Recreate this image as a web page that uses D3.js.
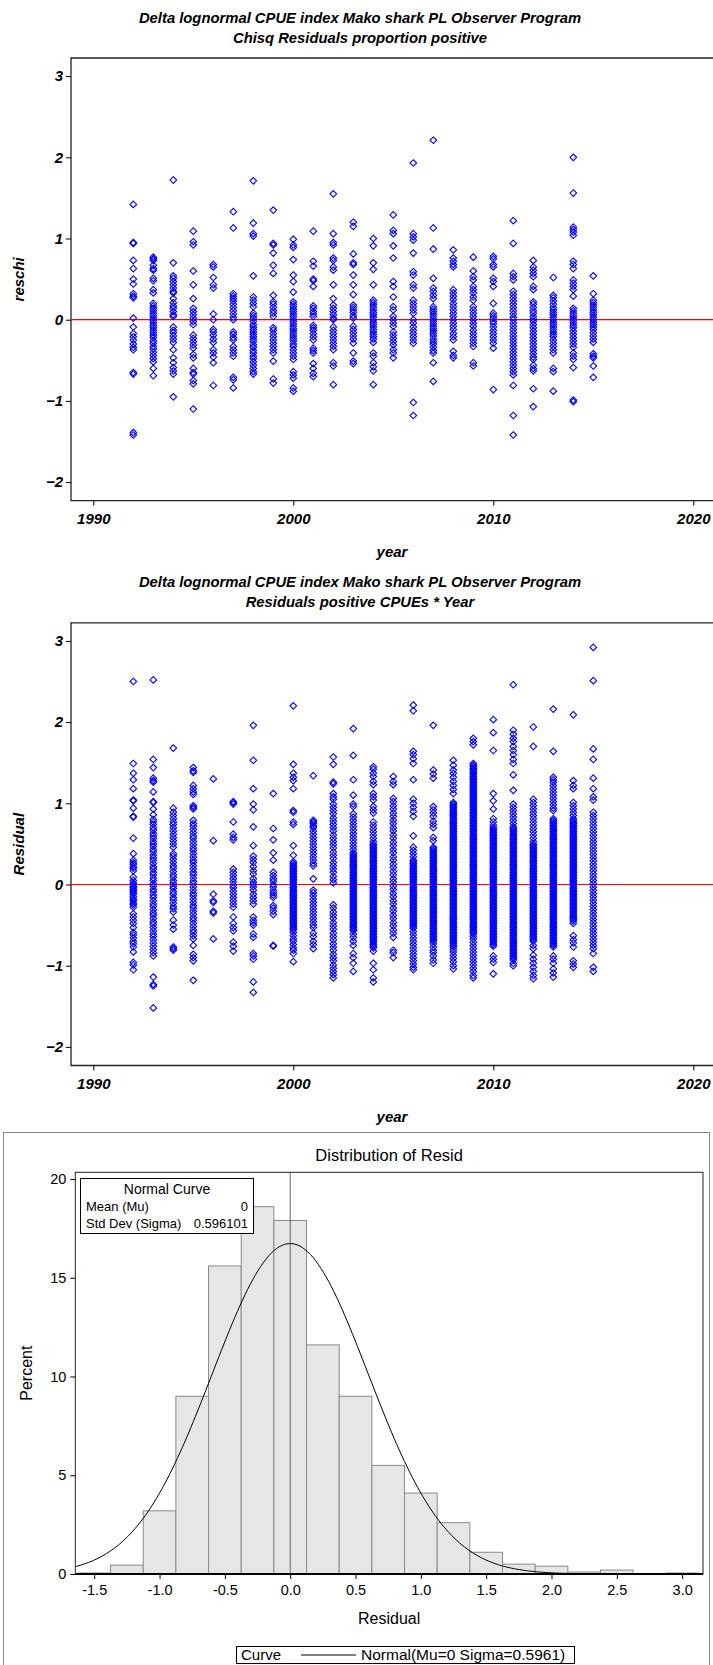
<!DOCTYPE html>
<html lang="en">
  <head>
    <meta charset="UTF-8" />
    <script src="https://cdnjs.cloudflare.com/ajax/libs/d3/7.8.5/d3.min.js"></script>
    <title>Mako shark residuals</title>
    <style>
      body {
        margin: 0;
        background: #fff;
      }
      svg {
        display: block;
      }
      .sas text {
        font-family: "Liberation Sans", Arial, sans-serif;
        font-weight: bold;
        font-style: italic;
        font-size: 15px;
        fill: #000;
      }
      .sas .title {
        font-size: 14.8px;
      }
      .hist text {
        font-family: "Liberation Sans", Arial, sans-serif;
        font-size: 14.5px;
        fill: #000;
      }
      .pt {
        fill: none;
        stroke: #0000ff;
        stroke-width: 1.1;
      }
    </style>
  </head>
  <body>
    <script>
      // ---- data ----
      const years = [1992, 1993, 1994, 1995, 1996, 1997, 1998, 1999, 2000, 2001, 2002, 2003,
                     2004, 2005, 2006, 2007, 2008, 2009, 2010, 2011, 2012, 2013, 2014, 2015];

      // chi-square residuals of proportion positive, one string per year
      const reschi = [
        "1.42 0.95 0.94 0.73 0.63 0.50 0.44 0.32 0.29 0.27 0.02 -0.09 -0.17 -0.21 -0.25 -0.30 -0.34 -0.37 -0.65 -0.67 -1.39 -1.42",
        "0.77 0.75 0.73 0.67 0.63 0.61 0.51 0.48 0.37 0.33 0.20 0.17 0.14 0.11 0.08 0.05 0.02 -0.01 -0.04 -0.07 -0.10 -0.13 -0.16 -0.19 -0.22 -0.26 -0.29 -0.33 -0.36 -0.40 -0.44 -0.48 -0.52 -0.60 -0.69",
        "1.72 0.70 0.54 0.51 0.47 0.43 0.39 0.35 0.33 0.26 0.21 0.17 0.14 0.10 0.06 0.04 -0.09 -0.13 -0.16 -0.20 -0.24 -0.28 -0.37 -0.47 -0.53 -0.59 -0.63 -0.67 -0.95",
        "1.09 0.96 0.92 0.60 0.43 0.26 0.14 0.10 0.06 0.02 -0.02 -0.06 -0.19 -0.23 -0.27 -0.31 -0.35 -0.43 -0.47 -0.60 -0.65 -0.67 -0.75 -0.79 -1.10",
        "0.68 0.65 0.52 0.43 0.39 0.07 0.00 -0.12 -0.15 -0.19 -0.24 -0.28 -0.37 -0.41 -0.46 -0.53 -0.81",
        "1.33 1.13 0.32 0.29 0.26 0.23 0.19 0.15 0.11 0.07 0.03 0.00 -0.15 -0.18 -0.22 -0.25 -0.33 -0.37 -0.41 -0.45 -0.71 -0.74 -0.84",
        "1.71 1.19 1.06 1.03 0.54 0.28 0.24 0.20 0.16 0.08 0.05 0.02 -0.02 -0.06 -0.09 -0.12 -0.15 -0.18 -0.21 -0.24 -0.27 -0.31 -0.34 -0.38 -0.41 -0.45 -0.48 -0.52 -0.56 -0.60 -0.64 -0.67",
        "1.35 0.94 0.92 0.82 0.67 0.57 0.30 0.22 0.19 0.15 0.11 0.08 0.04 -0.10 -0.13 -0.17 -0.21 -0.25 -0.29 -0.33 -0.37 -0.41 -0.51 -0.73 -0.78",
        "0.99 0.92 0.89 0.74 0.55 0.47 0.34 0.22 0.19 0.16 0.13 0.10 0.07 0.04 0.01 -0.02 -0.05 -0.08 -0.11 -0.14 -0.17 -0.20 -0.23 -0.26 -0.30 -0.33 -0.37 -0.41 -0.45 -0.49 -0.64 -0.68 -0.72 -0.84 -0.88",
        "1.09 0.72 0.66 0.50 0.48 0.41 0.17 0.14 0.10 0.07 0.04 -0.07 -0.10 -0.13 -0.17 -0.21 -0.25 -0.35 -0.38 -0.41 -0.54 -0.60 -0.66 -0.70",
        "1.55 1.06 0.95 0.92 0.76 0.73 0.65 0.61 0.43 0.26 0.18 0.14 0.10 0.06 0.02 0.00 -0.09 -0.13 -0.17 -0.21 -0.25 -0.29 -0.33 -0.37 -0.53 -0.57 -0.80",
        "1.20 1.15 0.81 0.70 0.68 0.55 0.43 0.31 0.18 0.15 0.12 0.09 0.05 0.02 -0.08 -0.12 -0.16 -0.20 -0.24 -0.29 -0.41 -0.51 -0.54",
        "1.00 0.91 0.70 0.62 0.43 0.24 0.21 0.18 0.15 0.12 0.09 0.06 0.03 0.00 -0.03 -0.06 -0.09 -0.12 -0.15 -0.18 -0.21 -0.24 -0.28 -0.41 -0.45 -0.53 -0.58 -0.63 -0.80",
        "1.29 1.10 1.06 0.91 0.76 0.47 0.41 0.28 0.16 0.12 0.04 0.00 -0.04 -0.08 -0.15 -0.19 -0.23 -0.27 -0.31 -0.37 -0.41 -0.47",
        "1.93 1.06 1.02 0.98 0.82 0.59 0.55 0.43 0.39 0.24 0.20 0.16 0.12 0.08 0.00 -0.04 -0.09 -0.13 -0.17 -0.21 -0.25 -0.29 -1.02 -1.18",
        "2.21 1.13 0.87 0.51 0.39 0.35 0.30 0.26 0.16 0.13 0.10 0.07 0.04 0.01 -0.02 -0.05 -0.08 -0.11 -0.14 -0.17 -0.20 -0.24 -0.27 -0.30 -0.34 -0.38 -0.41 -0.53 -0.76",
        "0.86 0.76 0.72 0.68 0.65 0.37 0.33 0.29 0.25 0.20 0.16 0.12 0.08 0.04 0.00 -0.04 -0.08 -0.12 -0.17 -0.21 -0.25 -0.39 -0.44 -0.47",
        "0.77 0.60 0.53 0.49 0.41 0.37 0.33 0.28 0.24 0.16 0.12 0.08 0.04 0.00 -0.04 -0.08 -0.13 -0.17 -0.21 -0.25 -0.29 -0.33 -0.53 -0.57",
        "0.78 0.75 0.68 0.65 0.51 0.47 0.41 0.20 0.08 0.05 0.02 -0.02 -0.05 -0.09 -0.13 -0.17 -0.21 -0.25 -0.29 -0.35 -0.86",
        "1.22 0.94 0.57 0.53 0.49 0.35 0.31 0.27 0.23 0.19 0.15 0.11 0.07 0.03 0.00 -0.04 -0.08 -0.12 -0.16 -0.20 -0.24 -0.28 -0.32 -0.36 -0.40 -0.44 -0.48 -0.52 -0.56 -0.60 -0.64 -0.68 -0.81 -1.18 -1.42",
        "0.73 0.65 0.61 0.57 0.53 0.41 0.37 0.22 0.19 0.15 0.11 0.08 0.04 0.01 -0.02 -0.06 -0.10 -0.14 -0.18 -0.22 -0.26 -0.30 -0.34 -0.38 -0.42 -0.46 -0.49 -0.56 -0.60 -0.63 -0.85 -1.07",
        "0.52 0.30 0.27 0.23 0.19 0.15 0.12 0.09 0.06 0.03 0.00 -0.03 -0.06 -0.09 -0.12 -0.15 -0.18 -0.21 -0.25 -0.29 -0.33 -0.37 -0.41 -0.60 -0.64 -0.88",
        "2.00 1.56 1.14 1.11 1.08 1.04 0.72 0.68 0.63 0.49 0.45 0.41 0.37 0.29 0.14 0.11 0.08 0.05 0.02 -0.01 -0.04 -0.07 -0.10 -0.14 -0.18 -0.22 -0.26 -0.30 -0.34 -0.41 -0.45 -0.49 -0.59 -0.99 -1.01",
        "0.54 0.32 0.24 0.21 0.18 0.15 0.12 0.09 0.06 0.03 0.00 -0.03 -0.06 -0.09 -0.12 -0.16 -0.20 -0.24 -0.28 -0.42 -0.45 -0.47 -0.57 -0.71"
      ];

      // residuals of positive CPUEs, one string per year
      const resid = [
        "2.50 1.49 1.37 1.29 1.18 1.04 1.03 0.94 0.84 0.83 0.57 0.38 0.30 0.27 0.25 0.22 0.20 0.17 0.09 0.05 0.02 0.00 -0.02 -0.04 -0.06 -0.08 -0.10 -0.12 -0.15 -0.18 -0.20 -0.23 -0.25 -0.28 -0.36 -0.40 -0.44 -0.48 -0.53 -0.59 -0.62 -0.66 -0.70 -0.73 -0.77 -0.83 -0.96 -0.99 -1.05",
        "2.52 1.54 1.44 1.31 1.28 1.26 1.14 1.02 1.01 0.93 0.86 0.80 0.77 0.74 0.70 0.67 0.63 0.60 0.57 0.53 0.50 0.47 0.43 0.40 0.36 0.33 0.30 0.26 0.22 0.19 0.15 0.12 0.08 0.05 0.01 -0.02 -0.06 -0.09 -0.13 -0.16 -0.20 -0.24 -0.27 -0.31 -0.35 -0.38 -0.42 -0.46 -0.49 -0.53 -0.57 -0.61 -0.64 -0.68 -0.72 -0.76 -0.80 -0.84 -0.88 -1.14 -1.23 -1.25 -1.52",
        "1.68 0.94 0.89 0.85 0.81 0.77 0.74 0.70 0.66 0.62 0.58 0.54 0.50 0.46 0.38 0.35 0.31 0.27 0.23 0.20 0.16 0.12 0.09 0.05 0.02 -0.02 -0.05 -0.09 -0.12 -0.16 -0.19 -0.23 -0.27 -0.30 -0.34 -0.44 -0.50 -0.55 -0.77 -0.79 -0.81",
        "1.44 1.40 1.38 1.22 1.18 1.14 1.11 0.97 0.95 0.93 0.79 0.75 0.72 0.68 0.64 0.60 0.57 0.53 0.49 0.45 0.42 0.38 0.34 0.30 0.27 0.23 0.19 0.15 0.12 0.08 0.04 0.01 -0.03 -0.07 -0.11 -0.14 -0.18 -0.22 -0.26 -0.29 -0.33 -0.37 -0.41 -0.44 -0.48 -0.52 -0.56 -0.59 -0.63 -0.67 -0.75 -0.86 -0.90 -0.94 -1.18",
        "1.30 0.54 -0.12 -0.20 -0.22 -0.33 -0.35 -0.67",
        "1.02 1.01 0.99 0.77 0.62 0.58 0.55 0.19 0.15 0.11 0.07 0.03 -0.01 -0.04 -0.08 -0.12 -0.16 -0.20 -0.24 -0.28 -0.40 -0.48 -0.53 -0.57 -0.71 -0.76 -0.82",
        "1.96 1.53 1.18 0.99 0.92 0.71 0.48 0.35 0.31 0.27 0.22 0.17 0.13 0.07 0.03 0.00 -0.03 -0.07 -0.12 -0.16 -0.20 -0.24 -0.40 -0.44 -0.47 -0.50 -0.61 -0.65 -0.85 -0.88 -0.92 -1.20 -1.33",
        "1.12 0.69 0.55 0.39 0.30 0.15 0.11 0.07 0.04 0.00 -0.03 -0.07 -0.10 -0.13 -0.16 -0.26 -0.29 -0.33 -0.37 -0.75 -0.76",
        "2.20 1.48 1.37 1.32 1.28 1.18 0.91 0.89 0.77 0.74 0.48 0.36 0.28 0.26 0.24 0.22 0.20 0.18 0.16 0.14 0.12 0.10 0.08 0.06 0.04 0.02 0.00 -0.02 -0.04 -0.06 -0.08 -0.10 -0.12 -0.14 -0.16 -0.18 -0.20 -0.22 -0.24 -0.26 -0.28 -0.30 -0.32 -0.34 -0.36 -0.38 -0.40 -0.42 -0.44 -0.46 -0.48 -0.50 -0.52 -0.54 -0.56 -0.59 -0.63 -0.67 -0.70 -0.74 -0.78 -0.81 -0.85 -0.95",
        "1.34 0.79 0.77 0.75 0.72 0.70 0.66 0.62 0.58 0.54 0.50 0.46 0.42 0.38 0.34 0.30 0.26 0.23 0.07 -0.07 -0.10 -0.14 -0.18 -0.22 -0.26 -0.30 -0.34 -0.38 -0.42 -0.46 -0.50 -0.53 -0.60 -0.64 -0.70 -0.74 -0.79",
        "1.57 1.48 1.26 1.24 1.12 1.08 1.05 0.99 0.95 0.91 0.87 0.82 0.78 0.74 0.70 0.66 0.61 0.57 0.53 0.49 0.45 0.40 0.36 0.32 0.27 0.23 0.19 0.15 0.10 0.06 0.02 -0.25 -0.29 -0.34 -0.38 -0.42 -0.47 -0.51 -0.55 -0.60 -0.64 -0.68 -0.73 -0.77 -0.81 -0.86 -0.90 -0.94 -0.99 -1.03 -1.07 -1.11 -1.15",
        "1.92 1.59 1.29 1.10 0.99 0.96 0.87 0.83 0.79 0.75 0.71 0.67 0.63 0.59 0.55 0.51 0.47 0.43 0.39 0.37 0.35 0.33 0.31 0.29 0.27 0.25 0.23 0.21 0.19 0.17 0.15 0.13 0.11 0.09 0.07 0.05 0.03 0.01 -0.01 -0.03 -0.05 -0.07 -0.09 -0.11 -0.13 -0.15 -0.17 -0.19 -0.21 -0.23 -0.25 -0.27 -0.29 -0.31 -0.33 -0.35 -0.37 -0.39 -0.41 -0.43 -0.45 -0.47 -0.49 -0.51 -0.53 -0.55 -0.57 -0.61 -0.65 -0.70 -0.75 -0.85 -0.90 -0.97 -1.07",
        "1.45 1.42 1.37 1.33 1.27 1.23 1.12 1.08 1.04 0.96 0.92 0.88 0.77 0.73 0.69 0.65 0.61 0.57 0.53 0.50 0.48 0.46 0.44 0.42 0.40 0.38 0.36 0.34 0.32 0.30 0.28 0.26 0.24 0.22 0.20 0.18 0.16 0.14 0.12 0.10 0.08 0.06 0.04 0.02 0.00 -0.02 -0.04 -0.06 -0.08 -0.10 -0.12 -0.14 -0.16 -0.18 -0.20 -0.22 -0.24 -0.26 -0.28 -0.30 -0.32 -0.34 -0.36 -0.38 -0.40 -0.42 -0.44 -0.46 -0.48 -0.50 -0.52 -0.54 -0.56 -0.58 -0.60 -0.62 -0.64 -0.66 -0.68 -0.70 -0.72 -0.74 -0.76 -0.78 -0.82 -0.97 -1.05 -1.15 -1.20",
        "1.33 1.27 1.23 1.06 1.02 0.97 0.93 0.88 0.84 0.79 0.75 0.70 0.66 0.61 0.57 0.52 0.48 0.43 0.39 0.34 0.30 0.25 0.21 0.16 0.12 0.07 0.03 -0.02 -0.06 -0.11 -0.15 -0.20 -0.24 -0.29 -0.33 -0.38 -0.42 -0.47 -0.51 -0.56 -0.60 -0.65 -0.81 -0.84 -0.90",
        "2.21 2.14 1.64 1.60 1.55 1.49 1.29 1.05 1.00 0.95 0.90 0.84 0.60 0.46 0.42 0.38 0.34 0.30 0.28 0.26 0.24 0.22 0.20 0.18 0.16 0.14 0.12 0.10 0.08 0.06 0.04 0.02 0.00 -0.02 -0.04 -0.06 -0.08 -0.10 -0.12 -0.14 -0.16 -0.18 -0.20 -0.22 -0.24 -0.26 -0.28 -0.30 -0.32 -0.34 -0.36 -0.38 -0.40 -0.42 -0.44 -0.46 -0.48 -0.50 -0.52 -0.54 -0.58 -0.62 -0.66 -0.70 -0.74 -0.78 -0.82 -0.86 -0.90 -0.94 -0.98 -1.02 -1.05",
        "1.96 1.41 1.36 1.31 0.96 0.92 0.88 0.84 0.78 0.74 0.70 0.58 0.54 0.46 0.44 0.42 0.40 0.38 0.36 0.34 0.32 0.30 0.28 0.26 0.24 0.22 0.20 0.18 0.16 0.14 0.12 0.10 0.08 0.06 0.04 0.02 0.00 -0.02 -0.04 -0.06 -0.08 -0.10 -0.12 -0.14 -0.16 -0.18 -0.20 -0.22 -0.24 -0.26 -0.28 -0.30 -0.32 -0.34 -0.36 -0.38 -0.40 -0.42 -0.44 -0.46 -0.48 -0.50 -0.52 -0.54 -0.56 -0.58 -0.60 -0.62 -0.64 -0.66 -0.68 -0.70 -0.73 -0.77 -0.81 -0.84 -0.88 -0.93 -0.97",
        "1.53 1.47 1.41 1.37 1.32 1.27 1.22 1.17 1.12 1.01 0.99 0.97 0.95 0.93 0.91 0.89 0.87 0.85 0.83 0.81 0.79 0.77 0.75 0.73 0.71 0.69 0.67 0.65 0.63 0.61 0.59 0.57 0.55 0.53 0.51 0.49 0.47 0.45 0.43 0.41 0.39 0.37 0.35 0.33 0.31 0.29 0.27 0.25 0.23 0.21 0.19 0.17 0.15 0.13 0.11 0.09 0.07 0.05 0.03 0.01 -0.01 -0.03 -0.05 -0.07 -0.09 -0.11 -0.13 -0.15 -0.17 -0.19 -0.21 -0.23 -0.25 -0.27 -0.29 -0.31 -0.33 -0.35 -0.37 -0.39 -0.41 -0.43 -0.45 -0.47 -0.49 -0.51 -0.53 -0.55 -0.57 -0.59 -0.61 -0.63 -0.65 -0.67 -0.69 -0.71 -0.73 -0.75 -0.77 -0.80 -0.83 -0.87 -0.91 -0.95 -1.00 -1.04",
        "1.80 1.76 1.72 1.49 1.47 1.45 1.43 1.41 1.39 1.37 1.35 1.33 1.31 1.29 1.27 1.25 1.23 1.21 1.19 1.17 1.15 1.13 1.11 1.09 1.07 1.05 1.03 1.01 0.99 0.97 0.95 0.93 0.91 0.89 0.87 0.85 0.83 0.81 0.79 0.77 0.75 0.73 0.71 0.69 0.67 0.65 0.63 0.61 0.59 0.57 0.55 0.53 0.51 0.49 0.47 0.45 0.43 0.41 0.39 0.37 0.35 0.33 0.31 0.29 0.27 0.25 0.23 0.21 0.19 0.17 0.15 0.13 0.11 0.09 0.07 0.05 0.03 0.01 -0.01 -0.03 -0.05 -0.07 -0.09 -0.11 -0.13 -0.15 -0.17 -0.19 -0.21 -0.23 -0.25 -0.27 -0.29 -0.31 -0.33 -0.35 -0.37 -0.39 -0.41 -0.43 -0.45 -0.47 -0.49 -0.51 -0.53 -0.55 -0.57 -0.59 -0.61 -0.64 -0.67 -0.71 -0.75 -0.79 -0.83 -0.87 -0.91 -0.95 -0.99 -1.03 -1.07 -1.12 -1.15",
        "2.03 1.87 1.65 1.12 1.03 0.93 0.81 0.77 0.73 0.70 0.68 0.66 0.64 0.62 0.60 0.58 0.56 0.54 0.52 0.50 0.48 0.46 0.44 0.42 0.40 0.38 0.36 0.34 0.32 0.30 0.28 0.26 0.24 0.22 0.20 0.18 0.16 0.14 0.12 0.10 0.08 0.06 0.04 0.02 0.00 -0.02 -0.04 -0.06 -0.08 -0.10 -0.12 -0.14 -0.16 -0.18 -0.20 -0.22 -0.24 -0.26 -0.28 -0.30 -0.32 -0.34 -0.36 -0.38 -0.40 -0.42 -0.44 -0.46 -0.48 -0.50 -0.52 -0.54 -0.56 -0.58 -0.60 -0.62 -0.64 -0.66 -0.68 -0.70 -0.72 -0.74 -0.76 -0.88 -0.92 -0.96 -1.10",
        "2.46 1.90 1.85 1.80 1.76 1.70 1.65 1.60 1.54 1.49 1.35 1.16 0.99 0.95 0.91 0.87 0.83 0.79 0.75 0.71 0.69 0.67 0.65 0.63 0.61 0.59 0.57 0.55 0.53 0.51 0.49 0.47 0.45 0.43 0.41 0.39 0.37 0.35 0.33 0.31 0.29 0.27 0.25 0.23 0.21 0.19 0.17 0.15 0.13 0.11 0.09 0.07 0.05 0.03 0.01 -0.01 -0.03 -0.05 -0.07 -0.09 -0.11 -0.13 -0.15 -0.17 -0.19 -0.21 -0.23 -0.25 -0.27 -0.29 -0.31 -0.33 -0.35 -0.37 -0.39 -0.41 -0.43 -0.45 -0.47 -0.49 -0.51 -0.53 -0.55 -0.57 -0.59 -0.61 -0.63 -0.65 -0.67 -0.69 -0.71 -0.73 -0.75 -0.77 -0.79 -0.81 -0.83 -0.85 -0.87 -0.89 -0.91 -0.93 -0.97 -1.00",
        "1.94 1.70 1.05 1.01 0.97 0.93 0.89 0.85 0.81 0.77 0.73 0.69 0.65 0.61 0.57 0.53 0.50 0.48 0.46 0.44 0.42 0.40 0.38 0.36 0.34 0.32 0.30 0.28 0.26 0.24 0.22 0.20 0.18 0.16 0.14 0.12 0.10 0.08 0.06 0.04 0.02 0.00 -0.02 -0.04 -0.06 -0.08 -0.10 -0.12 -0.14 -0.16 -0.18 -0.20 -0.22 -0.24 -0.26 -0.28 -0.30 -0.32 -0.34 -0.36 -0.38 -0.40 -0.42 -0.44 -0.46 -0.48 -0.50 -0.52 -0.54 -0.56 -0.58 -0.60 -0.62 -0.64 -0.66 -0.68 -0.70 -0.75 -0.79 -0.87 -0.92 -0.97 -1.02 -1.07 -1.12 -1.16",
        "2.16 1.64 1.32 1.29 1.26 1.22 1.18 1.14 1.10 1.06 1.02 0.98 0.94 0.91 0.81 0.79 0.77 0.75 0.73 0.71 0.69 0.67 0.65 0.63 0.61 0.59 0.57 0.55 0.53 0.51 0.49 0.47 0.45 0.43 0.41 0.39 0.37 0.35 0.33 0.31 0.29 0.27 0.25 0.23 0.21 0.19 0.17 0.15 0.13 0.11 0.09 0.07 0.05 0.03 0.01 -0.01 -0.03 -0.05 -0.07 -0.09 -0.11 -0.13 -0.15 -0.17 -0.19 -0.21 -0.23 -0.25 -0.27 -0.29 -0.31 -0.33 -0.35 -0.37 -0.39 -0.41 -0.43 -0.45 -0.47 -0.49 -0.51 -0.53 -0.55 -0.57 -0.59 -0.61 -0.63 -0.65 -0.67 -0.69 -0.71 -0.73 -0.75 -0.77 -0.88 -0.92 -0.97 -1.04 -1.09 -1.14",
        "2.09 1.28 1.22 1.18 1.01 0.97 0.93 0.89 0.85 0.81 0.79 0.77 0.75 0.73 0.71 0.69 0.67 0.65 0.63 0.61 0.59 0.57 0.55 0.53 0.51 0.49 0.47 0.45 0.43 0.41 0.39 0.37 0.35 0.33 0.31 0.29 0.27 0.25 0.23 0.21 0.19 0.17 0.15 0.13 0.11 0.09 0.07 0.05 0.03 0.01 -0.01 -0.03 -0.05 -0.07 -0.09 -0.11 -0.13 -0.15 -0.17 -0.19 -0.21 -0.23 -0.25 -0.27 -0.29 -0.31 -0.33 -0.35 -0.37 -0.39 -0.41 -0.43 -0.45 -0.48 -0.63 -0.68 -0.72 -0.77 -0.94 -0.98 -1.02",
        "2.92 2.51 1.67 1.54 1.31 1.18 1.08 1.04 0.89 0.85 0.81 0.77 0.73 0.69 0.65 0.61 0.57 0.53 0.49 0.45 0.41 0.37 0.33 0.29 0.25 0.21 0.17 0.13 0.09 0.05 0.01 -0.03 -0.07 -0.11 -0.15 -0.19 -0.23 -0.27 -0.31 -0.35 -0.39 -0.43 -0.47 -0.51 -0.55 -0.59 -0.63 -0.67 -0.71 -0.75 -0.79 -0.85 -1.02 -1.07"
      ];

      const yearTicks = [1990, 2000, 2010, 2020];
      const resTicks = [-2, -1, 0, 1, 2, 3];

      // histogram of residuals (bin midpoints, percent)
      const binMids = [-1.5, -1.25, -1.0, -0.75, -0.5, -0.25, 0, 0.25, 0.5, 0.75, 1.0,
                       1.25, 1.5, 1.75, 2.0, 2.25, 2.5, 2.75, 3.0];
      const binPct = [0.05, 0.45, 3.2, 9.0, 15.6, 18.6, 17.9, 11.6, 9.0, 5.5, 4.1,
                      2.6, 1.1, 0.5, 0.4, 0.1, 0.2, 0.02, 0.05];
      const binWidth = 0.25;
      const histXTicks = [-1.5, -1.0, -0.5, 0.0, 0.5, 1.0, 1.5, 2.0, 2.5, 3.0];
      const histYTicks = [0, 5, 10, 15, 20];
      const mu = 0;
      const sigma = 0.596101;

      // ---- drawing ----
      const W = 713, H = 1665;
      const svg = d3.select("body").append("svg").attr("width", W).attr("height", H);

      const diamond = {
        draw(ctx, size) {
          const r = Math.sqrt(size) / 2;
          ctx.moveTo(0, -r);
          ctx.lineTo(r, 0);
          ctx.lineTo(0, r);
          ctx.lineTo(-r, 0);
          ctx.closePath();
        }
      };

      function scatterPanel(cfg) {
        const g = svg.append("g").attr("class", "sas");
        const left = 71, right = 713, top = cfg.top, bottom = cfg.top + 442.7;

        const x = d3.scaleLinear().domain([1988.885, 2020.985]).range([left, right]);
        const y = d3.scaleLinear().domain([-2.229, 3.223]).range([bottom, top]);

        // titles
        g.selectAll(".title")
          .data(cfg.titles)
          .join("text")
          .attr("class", "title")
          .attr("x", 360)
          .attr("y", (d, i) => top - 35.5 + i * 20)
          .attr("text-anchor", "middle")
          .text(d => d);

        // frame
        g.append("path")
          .attr("d", `M${right},${top} H${left} V${bottom} H${right}`)
          .attr("fill", "none")
          .attr("stroke", "#222")
          .attr("stroke-width", 1.3);

        // zero reference line
        g.append("line")
          .attr("x1", left).attr("x2", right)
          .attr("y1", y(0)).attr("y2", y(0))
          .attr("stroke", "#ff0000")
          .attr("stroke-width", 1.2);

        // axes
        const ya = g.append("g")
          .attr("transform", `translate(${left},0)`)
          .call(d3.axisLeft(y).tickValues(resTicks).tickSize(5).tickPadding(3)
            .tickFormat(d => (d < 0 ? "\u2212" + (-d) : d)));
        ya.select(".domain").remove();

        const xa = g.append("g")
          .attr("transform", `translate(0,${bottom})`)
          .call(d3.axisBottom(x).tickValues(yearTicks).tickSize(5).tickPadding(8)
            .tickFormat(d3.format("d")));
        xa.select(".domain").remove();

        g.selectAll(".tick text")
          .attr("font-size", null)
          .attr("font-family", null);

        // axis labels
        g.append("text")
          .attr("x", (left + right) / 2)
          .attr("y", bottom + 56)
          .attr("text-anchor", "middle")
          .text("year");
        g.append("text")
          .attr("transform", `translate(24,${(top + bottom) / 2}) rotate(-90)`)
          .attr("text-anchor", "middle")
          .text(cfg.ylabel);

        // points
        const pts = [];
        years.forEach((yr, i) => {
          cfg.values[i].split(" ").map(Number).forEach(v => pts.push({ yr, v }));
        });
        const sym = d3.symbol().type(diamond).size(44)();
        g.append("g")
          .selectAll("path")
          .data(pts)
          .join("path")
          .attr("class", "pt")
          .attr("d", sym)
          .attr("transform", d => `translate(${x(d.yr)},${y(d.v)})`);
      }

      scatterPanel({
        top: 58,
        titles: ["Delta lognormal CPUE index Mako shark PL Observer Program",
                 "Chisq Residuals proportion positive"],
        ylabel: "reschi",
        values: reschi
      });

      scatterPanel({
        top: 622.8,
        titles: ["Delta lognormal CPUE index Mako shark PL Observer Program",
                 "Residuals positive CPUEs * Year"],
        ylabel: "Residual",
        values: resid
      });

      // ---- histogram panel ----
      const h = svg.append("g").attr("class", "hist");
      const hl = 75.3, hr = 703, ht = 1172.3, hb = 1574;
      const xh = d3.scaleLinear().domain([-1.6449, 3.1595]).range([hl, hr]);
      const yh = d3.scaleLinear().domain([0, 20]).range([hb, 1179]);

      h.append("rect")
        .attr("x", 3.5).attr("y", 1132.5)
        .attr("width", 706).attr("height", 540)
        .attr("fill", "none")
        .attr("stroke", "#888");

      h.append("text")
        .attr("x", (hl + hr) / 2)
        .attr("y", 1161)
        .attr("text-anchor", "middle")
        .style("font-size", "16.5px")
        .text("Distribution of Resid");

      h.append("g")
        .selectAll("rect")
        .data(binMids)
        .join("rect")
        .attr("x", d => xh(d - binWidth / 2))
        .attr("width", d => xh(d + binWidth / 2) - xh(d - binWidth / 2))
        .attr("y", (d, i) => yh(binPct[i]))
        .attr("height", (d, i) => hb - yh(binPct[i]))
        .attr("fill", "#e6e6e6")
        .attr("stroke", "#8a8a8a")
        .attr("stroke-width", 1);

      // reference line at mean
      h.append("line")
        .attr("x1", xh(mu)).attr("x2", xh(mu))
        .attr("y1", ht).attr("y2", hb)
        .attr("stroke", "#666");

      // fitted normal curve, scaled to percent per bin
      const curveX = d3.range(-1.6449, 3.16, 0.02);
      const normPct = xv => 100 * binWidth * Math.exp(-0.5 * ((xv - mu) / sigma) ** 2) / (sigma * Math.sqrt(2 * Math.PI));
      h.append("path")
        .datum(curveX)
        .attr("d", d3.line().x(d => xh(d)).y(d => yh(normPct(d))))
        .attr("fill", "none")
        .attr("stroke", "#000")
        .attr("stroke-width", 1);

      // frame
      h.append("rect")
        .attr("x", hl).attr("y", ht)
        .attr("width", hr - hl).attr("height", hb - ht)
        .attr("fill", "none")
        .attr("stroke", "#222");
      h.append("line")
        .attr("x1", hl).attr("x2", hr)
        .attr("y1", hb).attr("y2", hb)
        .attr("stroke", "#000")
        .attr("stroke-width", 2);

      const hya = h.append("g")
        .attr("transform", `translate(${hl},0)`)
        .call(d3.axisLeft(yh).tickValues(histYTicks).tickSize(5).tickPadding(4));
      hya.select(".domain").remove();
      const hxa = h.append("g")
        .attr("transform", `translate(0,${hb})`)
        .call(d3.axisBottom(xh).tickValues(histXTicks).tickSize(5).tickPadding(6)
          .tickFormat(d => d.toFixed(1)));
      hxa.select(".domain").remove();
      h.selectAll(".tick text").attr("font-size", null).attr("font-family", null);

      h.append("text")
        .attr("x", (hl + hr) / 2)
        .attr("y", 1624)
        .attr("text-anchor", "middle")
        .style("font-size", "16px")
        .text("Residual");
      h.append("text")
        .attr("transform", `translate(32,${(ht + hb) / 2}) rotate(-90)`)
        .attr("text-anchor", "middle")
        .style("font-size", "16px")
        .text("Percent");

      // inset box with fit parameters
      const inset = h.append("g");
      inset.append("rect")
        .attr("x", 80.5).attr("y", 1178.5)
        .attr("width", 173).attr("height", 55)
        .attr("fill", "#fff")
        .attr("stroke", "#000");
      inset.append("text").attr("x", 167).attr("y", 1194).attr("text-anchor", "middle")
        .style("font-size", "14px").text("Normal Curve");
      inset.append("text").attr("x", 86).attr("y", 1211).style("font-size", "13px").text("Mean (Mu)");
      inset.append("text").attr("x", 248).attr("y", 1211).style("font-size", "13px")
        .attr("text-anchor", "end").text(mu);
      inset.append("text").attr("x", 86).attr("y", 1228).style("font-size", "13px").text("Std Dev (Sigma)");
      inset.append("text").attr("x", 248).attr("y", 1228).style("font-size", "13px")
        .attr("text-anchor", "end").text(sigma);

      // bottom legend
      const lg = h.append("g");
      lg.append("rect")
        .attr("x", 236.5).attr("y", 1646.5)
        .attr("width", 338).attr("height", 17)
        .attr("fill", "#fff")
        .attr("stroke", "#000");
      lg.append("text").attr("x", 241).attr("y", 1660).style("font-size", "15px").text("Curve");
      lg.append("line")
        .attr("x1", 301).attr("x2", 356)
        .attr("y1", 1655).attr("y2", 1655)
        .attr("stroke", "#000");
      lg.append("text").attr("x", 361).attr("y", 1660).style("font-size", "15.5px")
        .text(`Normal(Mu=${mu} Sigma=${sigma.toFixed(4)})`);
    </script>
  </body>
</html>
